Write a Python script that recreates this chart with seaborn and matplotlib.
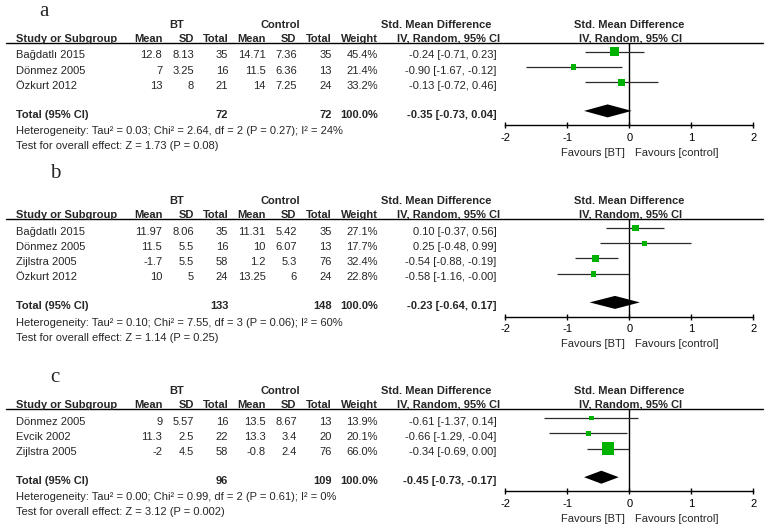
import numpy as np
import matplotlib
matplotlib.use("Agg")
import matplotlib.pyplot as plt
import seaborn as sns

# panel a
studies_a = ["Bağdatlı 2015", "Dönmez 2005", "Özkurt 2012"]
bt_mean_a = [12.8, 7, 13]
bt_sd_a = [8.13, 3.25, 8]
bt_n_a = [35, 16, 21]
ct_mean_a = [14.71, 11.5, 14]
ct_sd_a = [7.36, 6.36, 7.25]
ct_n_a = [35, 13, 24]
weight_a = [45.4, 21.4, 33.2]
smd_a = [-0.24, -0.90, -0.13]
lo_a = [-0.71, -1.67, -0.72]
hi_a = [0.23, -0.12, 0.46]
total_a = [-0.35, -0.73, 0.04]
totn_a = [72, 72]
het_a = "Heterogeneity: Tau² = 0.03; Chi² = 2.64, df = 2 (P = 0.27); I² = 24%"
test_a = "Test for overall effect: Z = 1.73 (P = 0.08)"

# panel b
studies_b = ["Bağdatlı 2015", "Dönmez 2005", "Zijlstra 2005", "Özkurt 2012"]
bt_mean_b = [11.97, 11.5, -1.7, 10]
bt_sd_b = [8.06, 5.5, 5.5, 5]
bt_n_b = [35, 16, 58, 24]
ct_mean_b = [11.31, 10, 1.2, 13.25]
ct_sd_b = [5.42, 6.07, 5.3, 6]
ct_n_b = [35, 13, 76, 24]
weight_b = [27.1, 17.7, 32.4, 22.8]
smd_b = [0.10, 0.25, -0.54, -0.58]
lo_b = [-0.37, -0.48, -0.88, -1.16]
hi_b = [0.56, 0.99, -0.19, -0.0]
total_b = [-0.23, -0.64, 0.17]
totn_b = [133, 148]
het_b = "Heterogeneity: Tau² = 0.10; Chi² = 7.55, df = 3 (P = 0.06); I² = 60%"
test_b = "Test for overall effect: Z = 1.14 (P = 0.25)"

# panel c
studies_c = ["Dönmez 2005", "Evcik 2002", "Zijlstra 2005"]
bt_mean_c = [9, 11.3, -2]
bt_sd_c = [5.57, 2.5, 4.5]
bt_n_c = [16, 22, 58]
ct_mean_c = [13.5, 13.3, -0.8]
ct_sd_c = [8.67, 3.4, 2.4]
ct_n_c = [13, 20, 76]
weight_c = [13.9, 20.1, 66.0]
smd_c = [-0.61, -0.66, -0.34]
lo_c = [-1.37, -1.29, -0.69]
hi_c = [0.14, -0.04, 0.0]
total_c = [-0.45, -0.73, -0.17]
totn_c = [96, 109]
het_c = "Heterogeneity: Tau² = 0.00; Chi² = 0.99, df = 2 (P = 0.61); I² = 0%"
test_c = "Test for overall effect: Z = 3.12 (P = 0.002)"

ticks = [-2, -1, 0, 1, 2]

sns.set_style("white")
plt.rcParams["font.family"] = ["Liberation Sans", "DejaVu Sans"]
plt.rcParams["axes.unicode_minus"] = False

W, H = 770, 528
fig = plt.figure(figsize=(7.7, 5.28), dpi=100)
fig.patch.set_facecolor("white")
GREEN = "#00B200"


def put(x, y, s, **kw):
    # x, y in pixels from top-left; y is the text baseline
    kw.setdefault("fontsize", 8)
    kw.setdefault("va", "baseline")
    fig.text(x / W, 1 - y / H, s, **kw)


def fmt(v):
    return f"{v:g}"


def panel(letter, lpos, top, studies, btm, bts, btn, ctm, cts, ctn,
          weight, smd, lo, hi, total, totn, het, test):
    put(lpos[0], lpos[1], letter, fontsize=15, family="Liberation Serif",
        ha="center", va="center")

    # headers
    hy = top - 19 + 4
    put(177, hy, "BT", weight="bold", ha="center")
    put(280, hy, "Control", weight="bold", ha="center")
    put(491.7, hy, "Std. Mean Difference", weight="bold", ha="right")
    put(629.5, hy, "Std. Mean Difference", weight="bold", ha="center")
    cy = top - 1.5
    put(16, cy, "Study or Subgroup", weight="bold")
    for x, s in [(162.3, "Mean"), (194, "SD"), (228.3, "Total"), (265.7, "Mean"),
                 (296.7, "SD"), (331.7, "Total"), (377.7, "Weight"),
                 (500, "IV, Random, 95% CI")]:
        put(x, cy, s, weight="bold", ha="right")
    put(631, cy, "IV, Random, 95% CI", weight="bold", ha="center")
    fig.add_artist(plt.Line2D([6 / W, 763 / W], [1 - top / H, 1 - top / H],
                              color="black", lw=1))

    # study rows
    n = len(studies)
    rows = [top + 11.5 + 15.2 * i for i in range(n)]
    for i, y in enumerate(rows):
        b = y + 4
        put(16, b, studies[i])
        cols = [fmt(btm[i]), fmt(bts[i]), str(btn[i]), fmt(ctm[i]), fmt(cts[i]),
                str(ctn[i]), f"{weight[i]:.1f}%",
                f"{smd[i]:.2f} [{lo[i]:.2f}, {hi[i]:.2f}]"]
        for x, s in zip([162.3, 194, 228.3, 265.7, 296.7, 331.7, 377.7, 496.7], cols):
            put(x, b, s, ha="right")

    ty = rows[-1] + 28.7
    put(16, ty + 4, "Total (95% CI)", weight="bold")
    put(228.3, ty + 4, str(totn[0]), weight="bold", ha="right")
    put(331.7, ty + 4, str(totn[1]), weight="bold", ha="right")
    put(377.7, ty + 4, "100.0%", weight="bold", ha="right")
    put(496.7, ty + 4, f"{total[0]:.2f} [{total[1]:.2f}, {total[2]:.2f}]",
        weight="bold", ha="right")
    put(16, ty + 16.5 + 4, het)
    put(16, ty + 31.5 + 4, test)

    # forest plot
    axis_y = ty + 11.5
    ax = fig.add_axes([505.3 / W, 1 - axis_y / H, 248 / W, (axis_y - top) / H])
    ax.set_xlim(-2, 2)
    ax.set_ylim(axis_y, top)
    ax.patch.set_alpha(0)
    my = [y - 2.7 for y in rows]
    ax.hlines(my, lo, hi, color="#2a2a2a", lw=0.9, zorder=2)
    sizes = [(0.72 * (2.2 + 0.152 * w)) ** 2 for w in weight]
    sns.scatterplot(x=smd, y=my, s=sizes, marker="s", color=GREEN,
                    linewidth=0, ax=ax, zorder=3, legend=False)
    dy = ty - 2.7
    ax.fill([total[1], total[0], total[2], total[0]], [dy, dy - 6.5, dy, dy + 6.5],
            color="black", lw=0, zorder=4)
    ax.axvline(0, color="black", lw=1, zorder=1)
    for sp in ["top", "left", "right"]:
        ax.spines[sp].set_visible(False)
    ax.spines["bottom"].set_color("black")
    ax.spines["bottom"].set_linewidth(1)
    ax.set_yticks([])
    ax.set_xticks(ticks)
    ax.set_xticklabels([str(t) for t in ticks], fontsize=8)
    ax.tick_params(axis="x", direction="inout", length=5, width=1, pad=3,
                   colors="black", bottom=True)
    ax.set_xlabel("")
    ax.set_ylabel("")
    put(625, axis_y + 26.5 + 4, "Favours [BT]", ha="right")
    put(635, axis_y + 26.5 + 4, "Favours [control]", ha="left")


panel("a", (44, 12), 43, studies_a, bt_mean_a, bt_sd_a, bt_n_a, ct_mean_a,
      ct_sd_a, ct_n_a, weight_a, smd_a, lo_a, hi_a, total_a, totn_a, het_a, test_a)
panel("b", (55, 173), 219.3, studies_b, bt_mean_b, bt_sd_b, bt_n_b, ct_mean_b,
      ct_sd_b, ct_n_b, weight_b, smd_b, lo_b, hi_b, total_b, totn_b, het_b, test_b)
panel("c", (55, 377), 409.3, studies_c, bt_mean_c, bt_sd_c, bt_n_c, ct_mean_c,
      ct_sd_c, ct_n_c, weight_c, smd_c, lo_c, hi_c, total_c, totn_c, het_c, test_c)

fig.savefig("out.png", dpi=100, facecolor="white")
